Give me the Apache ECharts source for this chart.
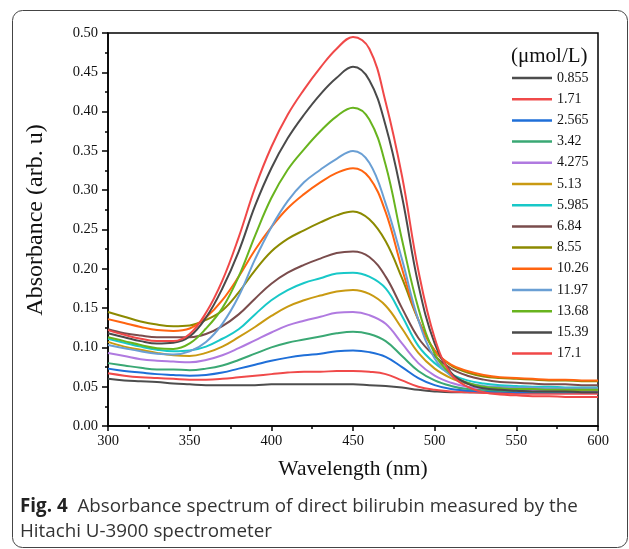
<!DOCTYPE html>
<html>
<head>
<meta charset="utf-8">
<script src="https://cdn.jsdelivr.net/npm/echarts@6/dist/echarts.min.js"></script>
<style>html,body{margin:0;padding:0;background:#fff;}#c{width:629px;height:549px;}</style>
</head>
<body>
<div id="c"></div>
<script>
// ---- data ----
const wavelengths = [300,310,320,330,340,350,360,370,380,390,400,410,420,430,440,450,460,470,480,490,500,510,520,530,540,550,560,570,580,590,600];
const concentrations = ['0.855','1.71','2.565','3.42','4.275','5.13','5.985','6.84','8.55','10.26','11.97','13.68','15.39','17.1'];
const a0855 = [0.060,0.058,0.057,0.056,0.054,0.053,0.052,0.052,0.052,0.052,0.053,0.053,0.053,0.053,0.053,0.053,0.052,0.051,0.049,0.046,0.044,0.043,0.043,0.043,0.042,0.042,0.042,0.042,0.042,0.042,0.042];
const a171  = [0.067,0.064,0.062,0.061,0.060,0.059,0.059,0.060,0.062,0.064,0.066,0.068,0.069,0.069,0.070,0.070,0.069,0.066,0.058,0.050,0.046,0.044,0.043,0.042,0.042,0.041,0.041,0.041,0.041,0.041,0.041];
const a2565 = [0.073,0.070,0.068,0.066,0.065,0.064,0.065,0.068,0.073,0.078,0.083,0.087,0.090,0.092,0.095,0.096,0.094,0.088,0.075,0.061,0.052,0.047,0.045,0.044,0.044,0.043,0.043,0.043,0.043,0.043,0.043];
const a342  = [0.080,0.077,0.074,0.072,0.072,0.071,0.073,0.077,0.084,0.092,0.100,0.106,0.110,0.114,0.118,0.120,0.117,0.108,0.089,0.070,0.058,0.051,0.047,0.046,0.045,0.045,0.044,0.044,0.044,0.044,0.044];
const a4275 = [0.093,0.089,0.085,0.083,0.082,0.081,0.084,0.090,0.099,0.109,0.119,0.128,0.134,0.139,0.144,0.145,0.141,0.130,0.105,0.080,0.064,0.055,0.050,0.048,0.047,0.046,0.046,0.045,0.045,0.045,0.045];
const a513  = [0.107,0.101,0.097,0.093,0.090,0.089,0.093,0.101,0.113,0.126,0.140,0.152,0.160,0.166,0.171,0.173,0.168,0.153,0.124,0.093,0.073,0.061,0.054,0.050,0.049,0.048,0.047,0.047,0.046,0.046,0.046];
const a5985 = [0.111,0.106,0.101,0.097,0.095,0.096,0.101,0.111,0.123,0.142,0.160,0.173,0.182,0.188,0.194,0.195,0.190,0.175,0.140,0.102,0.080,0.066,0.058,0.054,0.052,0.051,0.050,0.050,0.049,0.049,0.049];
const a684  = [0.123,0.118,0.115,0.113,0.113,0.113,0.117,0.127,0.142,0.162,0.181,0.195,0.205,0.213,0.220,0.222,0.215,0.190,0.150,0.112,0.089,0.073,0.064,0.059,0.056,0.055,0.054,0.053,0.053,0.052,0.052];
const a855  = [0.145,0.139,0.133,0.129,0.127,0.128,0.135,0.147,0.170,0.198,0.222,0.238,0.249,0.259,0.268,0.273,0.263,0.235,0.188,0.135,0.096,0.077,0.068,0.063,0.061,0.060,0.059,0.058,0.058,0.057,0.057];
const a1026 = [0.136,0.131,0.126,0.122,0.121,0.124,0.138,0.160,0.190,0.224,0.253,0.277,0.295,0.310,0.322,0.328,0.316,0.272,0.200,0.135,0.096,0.078,0.070,0.065,0.062,0.061,0.060,0.059,0.059,0.058,0.058];
const a1197 = [0.103,0.099,0.095,0.092,0.091,0.095,0.107,0.130,0.165,0.212,0.253,0.286,0.310,0.326,0.340,0.350,0.335,0.283,0.212,0.135,0.086,0.064,0.055,0.051,0.050,0.049,0.049,0.048,0.048,0.048,0.048];
const a1368 = [0.113,0.108,0.103,0.099,0.098,0.105,0.124,0.150,0.190,0.242,0.290,0.326,0.352,0.375,0.394,0.405,0.390,0.332,0.237,0.150,0.092,0.066,0.055,0.050,0.048,0.047,0.047,0.046,0.046,0.046,0.046];
const a1539 = [0.118,0.113,0.108,0.105,0.106,0.114,0.138,0.175,0.222,0.280,0.328,0.366,0.396,0.422,0.443,0.457,0.440,0.382,0.292,0.180,0.105,0.068,0.054,0.048,0.046,0.045,0.044,0.044,0.044,0.043,0.043];
const a1710 = [0.122,0.116,0.111,0.108,0.108,0.117,0.144,0.185,0.240,0.303,0.355,0.396,0.428,0.456,0.480,0.495,0.480,0.412,0.318,0.198,0.112,0.066,0.050,0.043,0.040,0.039,0.038,0.038,0.037,0.037,0.037];
const absorbance = [a0855,a171,a2565,a342,a4275,a513,a5985,a684,a855,a1026,a1197,a1368,a1539,a1710];
const xTicks = [300,350,400,450,500,550,600];
const yTicks = [0,0.05,0.10,0.15,0.20,0.25,0.30,0.35,0.40,0.45,0.50];

// ---- styles ----
const colors = ['#4d4d4d','#f04a4a','#1f6fd8','#3aa874','#b07ae0','#c99a12','#18c8c8','#7a4c4c','#8c8a00','#ff6410','#6a9fd4','#68b41e','#4a4a4a','#f04848'];
const SERIF = '"Liberation Serif", "Times New Roman", serif';

const chart = echarts.init(document.getElementById('c'), null, {renderer:'canvas'});
const series = concentrations.map((c,i)=>({
  name: c,
  type: 'line',
  data: wavelengths.map((w,j)=>[w, absorbance[i][j]]),
  showSymbol: false,
  smooth: 0.4,
  lineStyle: {width: 2, color: colors[i]},
  itemStyle: {color: colors[i]},
  emphasis: {disabled: true},
  z: 2 + i
}));

chart.setOption({
  animation: false,
  backgroundColor: '#fff',
  grid: {left: 108, right: 31, top: 33, bottom: 123, show: true, borderColor: '#000', borderWidth: 1.5, backgroundColor: 'transparent'},
  xAxis: {
    type: 'value', min: xTicks[0], max: xTicks[xTicks.length-1], interval: 50,
    name: 'Wavelength (nm)', nameLocation: 'middle', nameGap: 32,
    nameTextStyle: {fontFamily: SERIF, fontSize: 21.5, color: '#111'},
    axisLine: {lineStyle: {color: '#000', width: 1.5}},
    axisTick: {show: true, length: 5, inside: false, lineStyle: {color: '#000', width: 1.5}},
    minorTick: {show: true, splitNumber: 2, length: 3, lineStyle: {color: '#000', width: 1.5}},
    axisLabel: {fontFamily: SERIF, fontSize: 14.5, color: '#111', margin: 8},
    splitLine: {show: false}
  },
  yAxis: {
    type: 'value', min: yTicks[0], max: yTicks[yTicks.length-1], interval: 0.05,
    axisLine: {lineStyle: {color: '#000', width: 1.5}},
    axisTick: {show: true, length: 6, inside: false, lineStyle: {color: '#000', width: 1.5}},
    minorTick: {show: true, splitNumber: 2, length: 3, lineStyle: {color: '#000', width: 1.5}},
    axisLabel: {fontFamily: SERIF, fontSize: 14.5, color: '#111', margin: 10, formatter: v => v.toFixed(2)},
    splitLine: {show: false}
  },
  legend: {
    orient: 'vertical', left: 512, top: 71, padding: 0,
    icon: 'rect', itemWidth: 40, itemHeight: 2.5, itemGap: 7.2,
    textStyle: {fontFamily: SERIF, fontSize: 14, color: '#111', lineHeight: 14},
    data: concentrations,
    selectedMode: false
  },
  graphic: [
    {type: 'rect', shape: {x: 12.5, y: 10.5, width: 615, height: 537, r: 10}, style: {fill: 'none', stroke: '#444', lineWidth: 1}, silent: true},
    {type: 'text', x: 36, y: 220, rotation: Math.PI/2, style: {text: 'Absorbance (arb. u)', font: '24px "Liberation Serif", serif', fill: '#111', align: 'center', verticalAlign: 'middle'}},
    {type: 'text', left: 511, top: 46, style: {text: '(μmol/L)', font: '21px "Liberation Serif", serif', fill: '#111'}},
    {type: 'text', left: 20, top: 494, style: {
      text: '{b|Fig. 4}  Absorbance spectrum of direct bilirubin measured by the\nHitachi U-3900 spectrometer',
      font: '18.8px "Open Sans", sans-serif', fill: '#333', lineHeight: 25,
      rich: {b: {font: 'bold 18.8px "Open Sans", sans-serif', fill: '#222'}}
    }}
  ],
  series: series
});
</script>
</body>
</html>
